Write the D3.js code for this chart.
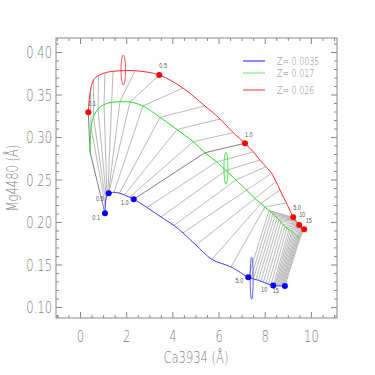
<!DOCTYPE html>
<html><head><meta charset="utf-8">
<script src="https://cdn.jsdelivr.net/npm/d3@7"></script>
<style>body{margin:0;background:#fff}</style>
</head><body><svg id="c" width="375" height="375"></svg>
<script>
// ---- data ----
const ages = [0.1,0.2,0.25,0.3,0.35,0.4,0.45,0.5,0.6,0.7,0.8,0.9,1.0,1.5,2,2.5,3,3.5,4,4.5,5,5.5,6,6.5,7,7.5,8,8.5,9,9.5,10,10.5,11,11.5,12,12.5,13,13.5,14,14.5,15];
// Z = 0.0035
const blueX = [1.082,1.095,1.113,1.139,1.169,1.203,1.225,1.242,1.472,1.710,1.926,2.143,2.325,2.900,3.506,4.069,4.459,5.022,5.714,6.537,7.286,7.403,7.511,7.619,7.727,7.835,7.944,8.052,8.160,8.268,8.368,8.424,8.476,8.528,8.580,8.632,8.684,8.732,8.779,8.827,8.874];
const blueY = [0.2102,0.2188,0.2247,0.2288,0.2312,0.2327,0.2333,0.2338,0.2349,0.2339,0.2318,0.2292,0.2267,0.2171,0.2059,0.1959,0.1871,0.1729,0.1559,0.1471,0.1349,0.1339,0.1329,0.1321,0.1314,0.1302,0.1291,0.1279,0.1268,0.1259,0.1251,0.1249,0.1248,0.1247,0.1247,0.1247,0.1247,0.1247,0.1247,0.1247,0.1247];
// Z = 0.017
const greenX = [0.433,0.476,0.584,0.779,1.039,1.372,1.732,2.165,2.727,3.463,4.199,4.905,5.411,5.918,6.320,6.753,7.216,7.576,7.835,8.009,8.182,8.268,8.355,8.442,8.528,8.615,8.701,8.788,8.874,8.961,9.048,9.113,9.177,9.229,9.281,9.329,9.372,9.411,9.450,9.489,9.524];
const greenY = [0.2824,0.3118,0.3235,0.3329,0.3382,0.3408,0.3415,0.3412,0.3365,0.3232,0.3088,0.2945,0.2815,0.2706,0.2606,0.2494,0.2376,0.2276,0.2218,0.2176,0.2135,0.2118,0.2094,0.2071,0.2047,0.2024,0.2000,0.1971,0.1947,0.1929,0.1912,0.1900,0.1888,0.1876,0.1865,0.1853,0.1841,0.1832,0.1824,0.1815,0.1808];
// Z = 0.026
const redX = [0.359,0.455,0.584,0.801,1.082,1.429,2.381,3.433,4.459,5.411,6.061,6.636,7.143,7.511,7.792,8.052,8.299,8.485,8.658,8.939,9.234,9.264,9.290,9.316,9.342,9.368,9.394,9.420,9.446,9.472,9.494,9.515,9.537,9.558,9.580,9.602,9.623,9.645,9.667,9.688,9.710];
const redY = [0.3291,0.3553,0.3671,0.3724,0.3755,0.3773,0.3780,0.3729,0.3576,0.3365,0.3212,0.3051,0.2926,0.2824,0.2729,0.2651,0.2573,0.2476,0.2376,0.2224,0.2055,0.2045,0.2035,0.2026,0.2016,0.2007,0.1999,0.1989,0.1981,0.1973,0.1965,0.1960,0.1954,0.1949,0.1945,0.1940,0.1934,0.1929,0.1925,0.1919,0.1914];

const seriesNames = ["Z= 0.0035","Z= 0.017","Z= 0.026"];
const markedAges = [0.1,0.5,1.0,5.0,10,15];
const markedLabels = ["0.1","0.5","1.0","5.0","10","15"];
const darkAges = [0.1,1.0];
// error ellipses: blue, green, red
const errX = [7.433,6.32,1.874];
const errY = [0.1338,0.2632,0.3788];
const errDX = [0.065,0.087,0.10];
const errDY = [0.0247,0.0188,0.0176];

const xTicks = [0,2,4,6,8,10];
const xTickLabels = ["0","2","4","6","8","10"];
const yTicks = [0.10,0.15,0.20,0.25,0.30,0.35,0.40];
const yTickLabels = ["0.10","0.15","0.20","0.25","0.30","0.35","0.40"];
const xTitle = "Ca3934 (Å)";
const yTitle = "Mg4480 (Å)";

// ---- layout ----
const L=56, R=337, T=38, B=318;
const colors = ["#3a3aff","#22dd22","#ff2a2a"];
const legendColors = ["#8c8cff","#7aee7a","#ff4d4d"];
const dotColors = ["#0000ff",null,"#ff0000"];
const axisGray = "#888";
const FONT = "'DejaVu Sans', 'Liberation Sans', sans-serif";
const FW = 200;
const SQ = 0.72;

const svg = d3.select("#c");
const x = d3.scaleLinear().domain([-1.04,11.13]).range([L,R]);
const y = d3.scaleLinear().domain([0.087,0.4165]).range([B,T]);

function squeeze(sel, f){ sel.each(function(){ const w=this.getComputedTextLength(); if(w>0){ this.setAttribute("textLength", (w*f).toFixed(2)); this.setAttribute("lengthAdjust","spacingAndGlyphs"); } }); }

const curves = [
  ages.map((a,i)=>({a, x:blueX[i], y:blueY[i]})),
  ages.map((a,i)=>({a, x:greenX[i], y:greenY[i]})),
  ages.map((a,i)=>({a, x:redX[i], y:redY[i]}))
];

const plot = svg.append("g");

// isochrone connecting lines
const iso = ages.map((a,i)=>[curves[0][i],curves[1][i],curves[2][i]]);
const isoLine = d3.line().x(d=>x(d.x)).y(d=>y(d.y));
plot.selectAll("path.iso").data(iso).join("path").attr("class","iso")
  .attr("d",isoLine).attr("fill","none")
  .attr("stroke",(d,i)=>darkAges.includes(ages[i])?"#444":"#9a9a9a")
  .attr("stroke-width",0.7);

// curves
const cl = d3.line().x(d=>x(d.x)).y(d=>y(d.y)).curve(d3.curveCatmullRom.alpha(0.5));
plot.selectAll("path.crv").data(curves).join("path").attr("class","crv")
  .attr("d",cl).attr("fill","none").attr("stroke",(d,i)=>colors[i]).attr("stroke-width",1);

// error ellipses
plot.selectAll("ellipse").data(errX.map((v,i)=>i)).join("ellipse")
  .attr("cx",i=>x(errX[i])).attr("cy",i=>y(errY[i]))
  .attr("rx",i=>x(errX[i]+errDX[i])-x(errX[i]))
  .attr("ry",i=>y(errY[i]-errDY[i])-y(errY[i]))
  .attr("fill","none").attr("stroke",i=>colors[i]).attr("stroke-width",0.8);

// dots & labels
const labelDX = {0:[-5,-5,-5,-5,-6,-6], 2:[0,0,0,0,0,1.5]};
const labelDY = {0:[7,8,6,6,6,7], 2:[-6,-7,-6,-7,-8,-6]};
[0,2].forEach(ci=>{
  const pts = curves[ci].filter(d=>markedAges.includes(d.a));
  plot.selectAll("circle.d"+ci).data(pts).join("circle").attr("class","d"+ci)
    .attr("cx",d=>x(d.x)).attr("cy",d=>y(d.y)).attr("r",3).attr("fill",dotColors[ci]);
  const t = plot.selectAll("text.l"+ci).data(pts).join("text").attr("class","l"+ci)
    .attr("x",(d,j)=>x(d.x)+labelDX[ci][j]).attr("y",(d,j)=>y(d.y)+labelDY[ci][j])
    .attr("text-anchor",ci===0?"end":"start")
    .attr("font-family","'Liberation Sans', sans-serif").attr("font-size",6.5).attr("fill","#555")
    .text(d=>markedLabels[markedAges.indexOf(d.a)]);
  squeeze(t,0.85);
});

// axes
const ax = svg.append("g").attr("color",axisGray);
const xMinor = d3.range(-1,11.01,0.5).filter(v=>!xTicks.includes(v));
const yMinor = d3.range(0.09,0.4101,0.01).map(v=>+v.toFixed(2)).filter(v=>!yTicks.some(t=>Math.abs(t-v)<1e-6));
function styleAxis(g){ g.selectAll("path.domain").remove(); g.selectAll("line").attr("stroke",axisGray); }
const gb = ax.append("g").attr("transform",`translate(0,${B})`)
  .call(d3.axisBottom(x).tickValues(xTicks).tickSize(-6).tickPadding(13).tickFormat((d,i)=>xTickLabels[i]));
ax.append("g").attr("transform",`translate(0,${B})`).call(d3.axisBottom(x).tickValues(xMinor).tickSize(-3).tickFormat("")).call(styleAxis);
ax.append("g").attr("transform",`translate(0,${T})`).call(d3.axisTop(x).tickValues(xTicks).tickSize(-6).tickFormat("")).call(styleAxis);
ax.append("g").attr("transform",`translate(0,${T})`).call(d3.axisTop(x).tickValues(xMinor).tickSize(-3).tickFormat("")).call(styleAxis);
const gl = ax.append("g").attr("transform",`translate(${L},0)`)
  .call(d3.axisLeft(y).tickValues(yTicks).tickSize(-6).tickPadding(4).tickFormat((d,i)=>yTickLabels[i]));
ax.append("g").attr("transform",`translate(${L},0)`).call(d3.axisLeft(y).tickValues(yMinor).tickSize(-3).tickFormat("")).call(styleAxis);
ax.append("g").attr("transform",`translate(${R},0)`).call(d3.axisRight(y).tickValues(yTicks).tickSize(-6).tickFormat("")).call(styleAxis);
ax.append("g").attr("transform",`translate(${R},0)`).call(d3.axisRight(y).tickValues(yMinor).tickSize(-3).tickFormat("")).call(styleAxis);
[gb,gl].forEach(g=>{ styleAxis(g); g.selectAll("text").attr("font-family",FONT).attr("font-weight",FW).attr("font-size",16).attr("fill","#808080"); });
gb.selectAll("text").attr("dy","0.71em");
gl.selectAll("text").attr("dy","0.36em");
squeeze(gb.selectAll("text"),SQ);
squeeze(gl.selectAll("text"),SQ);
ax.append("rect").attr("x",L).attr("y",T).attr("width",R-L).attr("height",B-T)
  .attr("fill","none").attr("stroke",axisGray).attr("stroke-width",1);

// titles
const xt = svg.append("text").attr("x",(L+R)/2-0.5).attr("y",363).attr("text-anchor","middle")
  .attr("font-family",FONT).attr("font-weight",FW).attr("font-size",16).attr("fill","#808080").text(xTitle);
squeeze(xt,SQ);
const yt = svg.append("text").attr("transform",`translate(18,${(T+B)/2}) rotate(-90)`).attr("text-anchor","middle")
  .attr("font-family",FONT).attr("font-weight",FW).attr("font-size",16).attr("fill","#808080").text(yTitle);
squeeze(yt,SQ);

// legend
const legY = [61,73,90];
const lg = svg.append("g");
seriesNames.forEach((s,i)=>{
  lg.append("line").attr("x1",243).attr("x2",265).attr("y1",legY[i]).attr("y2",legY[i])
    .attr("stroke",legendColors[i]).attr("stroke-width",i===0?2:1.2);
  const t = lg.append("text").attr("x",277).attr("y",legY[i]+4).attr("font-family",FONT).attr("font-weight",FW)
    .attr("font-size",11).attr("fill","#808080").text(s);
  squeeze(t,SQ);
});
</script>
</body></html>
